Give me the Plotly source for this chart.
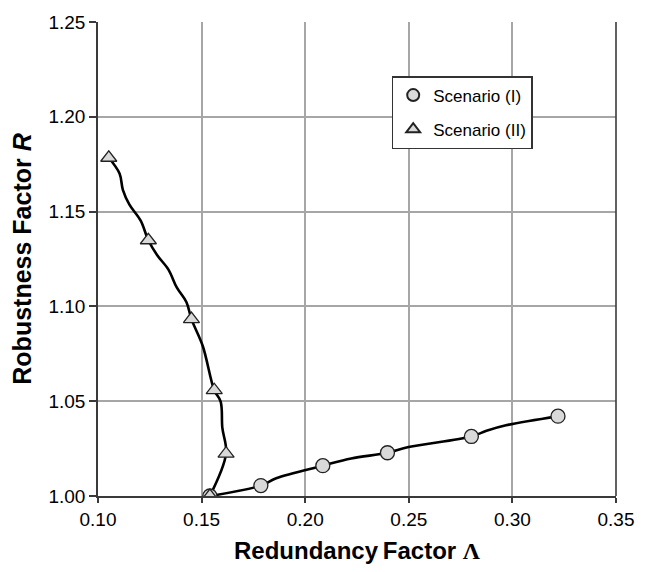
import plotly.graph_objects as go

# Scenario (I) markers
s1_x = [0.154, 0.1786, 0.2085, 0.2397, 0.2802, 0.322]
s1_y = [1.000, 1.0055, 1.016, 1.0228, 1.0314, 1.0421]
# Scenario (I) curve
s1_line_x = [0.154, 0.1786, 0.186, 0.2085, 0.2222, 0.2397, 0.2499, 0.2802, 0.2875, 0.2969, 0.322]
s1_line_y = [1.000, 1.0055, 1.0094, 1.016, 1.0198, 1.0228, 1.0258, 1.0314, 1.0344, 1.0373, 1.0421]

# Scenario (II) markers
s2_x = [0.1052, 0.1243, 0.1451, 0.1561, 0.1618, 0.154]
s2_y = [1.1784, 1.1349, 1.0933, 1.0558, 1.0223, 1.000]
# Scenario (II) curve
s2_line_x = [0.1052, 0.1104, 0.1120, 0.1151, 0.1206, 0.1243, 0.1285, 0.1340, 0.1380, 0.1427,
             0.1451, 0.1506, 0.1561, 0.1592, 0.1600, 0.1618, 0.154]
s2_line_y = [1.1784, 1.1701, 1.1615, 1.1538, 1.1452, 1.1349, 1.1271, 1.1194, 1.1100, 1.1022,
             1.0933, 1.0790, 1.0558, 1.0498, 1.0360, 1.0223, 1.000]

x_ticks = [0.10, 0.15, 0.20, 0.25, 0.30, 0.35]
y_ticks = [1.00, 1.05, 1.10, 1.15, 1.20, 1.25]

FONT = "Arial, 'Liberation Sans', sans-serif"
fill = "#d9d9d9"
dark = "#3a3a3a"
grid = "#a6a6a6"

fig = go.Figure()
fig.add_trace(go.Scatter(x=s1_line_x, y=s1_line_y, mode="lines", line=dict(color="black", width=2.6, shape="spline"),
                         showlegend=False, hoverinfo="skip"))
fig.add_trace(go.Scatter(x=s2_line_x, y=s2_line_y, mode="lines", line=dict(color="black", width=2.6, shape="spline"),
                         showlegend=False, hoverinfo="skip"))
fig.add_trace(go.Scatter(x=s1_x, y=s1_y, mode="markers", name="Scenario (I)", legendgroup="a",
                         marker=dict(symbol="circle", size=14, color=fill, line=dict(color="#222222", width=1.3))))
fig.add_trace(go.Scatter(x=s2_x, y=s2_y, mode="markers", name="Scenario (II)", legendgroup="b",
                         marker=dict(symbol="triangle-up", size=14, color=fill, line=dict(color="#222222", width=1.3))))

fig.update_layout(
    width=646, height=572,
    margin=dict(l=98, r=19, t=15, b=72),
    paper_bgcolor="white", plot_bgcolor="white",
    font=dict(family=FONT, size=19, color="black"),
    legend=dict(x=0.567, y=0.886, xanchor="left", yanchor="top", bgcolor="white",
                bordercolor="#333333", borderwidth=1.5, font=dict(size=17),
                traceorder="grouped", tracegroupgap=9, itemsizing="constant"),
    xaxis=dict(range=[0.10, 0.35], tickvals=x_ticks, tickformat=".2f",
               showgrid=True, gridcolor=grid, gridwidth=1.5,
               showline=True, linecolor=dark, linewidth=1.6,
               ticks="outside", ticklen=5, tickcolor=dark, tickwidth=1.5,
               zeroline=False, tickfont=dict(size=19),
               title=dict(text="<b>Redundancy\u2009Factor <span style=\"font-family:'Liberation Serif'\">Λ</span></b>",
                          font=dict(size=24), standoff=14)),
    yaxis=dict(range=[1.00, 1.25], tickvals=y_ticks, tickformat=".2f",
               showgrid=True, gridcolor=grid, gridwidth=1.5,
               showline=True, linecolor=dark, linewidth=1.6,
               ticks="outside", ticklen=7, tickcolor=dark, tickwidth=1.5,
               zeroline=False, tickfont=dict(size=19),
               title=dict(text="<b>Robustness Factor <i>R</i></b>", font=dict(size=25), standoff=10)),
    shapes=[dict(type="line", xref="paper", yref="paper", x0=1, x1=1, y0=0, y1=1,
                 line=dict(color=dark, width=1.6))],
)

fig.write_html("out.html")
